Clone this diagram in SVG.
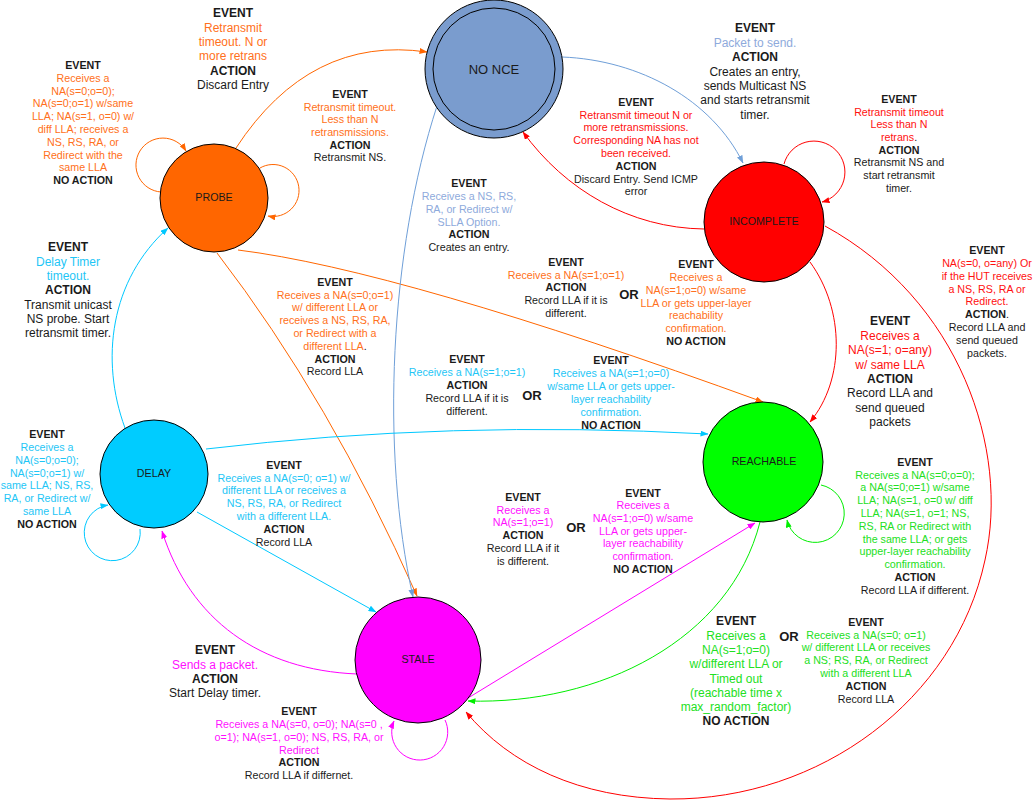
<svg xmlns="http://www.w3.org/2000/svg" width="1035" height="801" viewBox="0 0 1035 801">
<style>
text{font-family:"Liberation Sans",Arial,sans-serif;text-anchor:middle;font-size:10.7px;fill:#1a1a1a}
.l{font-size:12px}
.b{font-weight:bold}
.or{font-weight:bold;font-size:13px}
.cO{fill:#ff7020}.cR{fill:#ff1010}.cB{fill:#8eaadc}.cC{fill:#1ec6f6}.cM{fill:#ff10ff}.cG{fill:#22e022}.k{fill:#1a1a1a}
.node{stroke:#000;stroke-width:1}
.e{fill:none;stroke-width:1}
.eO{stroke:#ff6600;marker-end:url(#aO)}.eR{stroke:#ff0000;marker-end:url(#aR)}.eB{stroke:#6f9fd8;marker-end:url(#aB)}
.eC{stroke:#00c8ff;marker-end:url(#aC)}.eM{stroke:#ff00ff;marker-end:url(#aM)}.eG{stroke:#00ee00;marker-end:url(#aG)}
</style>
<defs>
<marker id="aO" markerWidth="8" markerHeight="6" refX="7.5" refY="3" orient="auto" markerUnits="userSpaceOnUse"><path d="M0,0 L8,3 L0,6 z" fill="#ff6600"/></marker>
<marker id="aR" markerWidth="8" markerHeight="6" refX="7.5" refY="3" orient="auto" markerUnits="userSpaceOnUse"><path d="M0,0 L8,3 L0,6 z" fill="#ff0000"/></marker>
<marker id="aB" markerWidth="8" markerHeight="6" refX="7.5" refY="3" orient="auto" markerUnits="userSpaceOnUse"><path d="M0,0 L8,3 L0,6 z" fill="#6f9fd8"/></marker>
<marker id="aC" markerWidth="8" markerHeight="6" refX="7.5" refY="3" orient="auto" markerUnits="userSpaceOnUse"><path d="M0,0 L8,3 L0,6 z" fill="#00c8ff"/></marker>
<marker id="aM" markerWidth="8" markerHeight="6" refX="7.5" refY="3" orient="auto" markerUnits="userSpaceOnUse"><path d="M0,0 L8,3 L0,6 z" fill="#ff00ff"/></marker>
<marker id="aG" markerWidth="8" markerHeight="6" refX="7.5" refY="3" orient="auto" markerUnits="userSpaceOnUse"><path d="M0,0 L8,3 L0,6 z" fill="#00ee00"/></marker>
</defs>
<rect width="1035" height="801" fill="#fff"/>
<g id="connectors">
<path class="e eO" d="M236,148 Q310,35 427,52"/>
<path class="e eO" d="M161,192 A27,27 0 1 1 186,151"/>
<path class="e eO" d="M260,168 A26,26 0 1 1 268,216"/>
<path class="e eB" d="M562,57 C640,60 712,100 743,163"/>
<path class="e eR" d="M704,229 C630,228 565,190 523,132"/>
<path class="e eR" d="M784,164 A31,31 0 1 1 822,202"/>
<path class="e eR" d="M810,262 C845,310 845,380 810,422"/>
<path class="e eR" d="M825,226 C960,300 1010,450 985,560 C955,700 820,800 670,799 C580,798 510,765 466,712"/>
<path class="e eO" d="M238,250 Q400,270 763,402"/>
<path class="e eO" d="M217,253 Q330,400 417,596"/>
<path class="e eB" d="M437,106 C390,250 380,450 413,597"/>
<path class="e eC" d="M125,428 C100,360 110,280 168,228"/>
<path class="e eC" d="M140,529 A28,28 0 1 1 108,505"/>
<path class="e eC" d="M206,449 Q450,420 708,434"/>
<path class="e eC" d="M197,512 L376,612"/>
<path class="e eM" d="M357,674 C260,670 190,620 162,531"/>
<path class="e eM" d="M445,720 A28,28 0 1 1 394,721"/>
<path class="e eM" d="M468,698 L755,523"/>
<path class="e eG" d="M760,522 C730,640 600,705 468,701"/>
<path class="e eG" d="M821,485 A29,29 0 1 1 787,520"/>
</g>
<g id="nonce">
<circle class="node" cx="494" cy="69" r="69" fill="#7a9cce"/>
<circle class="node" cx="494" cy="69" r="61" fill="#7a9cce"/>
<text x="494" y="73.5" style="font-size:13px">NO NCE</text>
</g>
<g id="probe">
<circle class="node" cx="214" cy="198" r="54" fill="#ff6600"/>
<text x="214" y="201">PROBE</text>
</g>
<g id="incomplete">
<circle class="node" cx="764" cy="222" r="60" fill="#ff0000"/>
<text x="764" y="225">INCOMPLETE</text>
</g>
<g id="reachable">
<circle class="node" cx="763" cy="462" r="60" fill="#00ff00"/>
<text x="764" y="465">REACHABLE</text>
</g>
<g id="delay">
<circle class="node" cx="154" cy="474" r="54" fill="#00ccff"/>
<text x="154" y="477">DELAY</text>
</g>
<g id="stale">
<circle class="node" cx="418" cy="660" r="63" fill="#ff00ff"/>
<text x="418" y="663">STALE</text>
</g>
<g id="labels">
<text x="83" y="69"><tspan class="b">EVENT</tspan><tspan class="cO" x="83" dy="12.8">Receives a</tspan><tspan class="cO" x="83" dy="12.8">NA(s=0;o=0);</tspan><tspan class="cO" x="83" dy="12.8">NA(s=0;o=1) w/same</tspan><tspan class="cO" x="83" dy="12.8">LLA; NA(s=1, o=0) w/</tspan><tspan class="cO" x="83" dy="12.8">diff LLA; receives a</tspan><tspan class="cO" x="83" dy="12.8">NS, RS, RA, or</tspan><tspan class="cO" x="83" dy="12.8">Redirect with the</tspan><tspan class="cO" x="83" dy="12.8">same LLA</tspan><tspan class="b" x="83" dy="12.8">NO ACTION</tspan></text>
<text class="l" x="233" y="17.3"><tspan class="b">EVENT</tspan><tspan class="cO" x="233" dy="14.3">Retransmit</tspan><tspan class="cO" x="233" dy="14.3">timeout. N or</tspan><tspan class="cO" x="233" dy="14.3">more retrans</tspan><tspan class="b" x="233" dy="14.3">ACTION</tspan><tspan x="233" dy="14.3">Discard Entry</tspan></text>
<text x="350" y="97.8"><tspan class="b">EVENT</tspan><tspan class="cO" x="350" dy="12.7">Retransmit timeout.</tspan><tspan class="cO" x="350" dy="12.7">Less than N</tspan><tspan class="cO" x="350" dy="12.7">retransmissions.</tspan><tspan class="b" x="350" dy="12.7">ACTION</tspan><tspan x="350" dy="12.7">Retransmit NS.</tspan></text>
<text class="l" x="755" y="32.3"><tspan class="b">EVENT</tspan><tspan class="cB" x="755" dy="14.4">Packet to send.</tspan><tspan class="b" x="755" dy="14.4">ACTION</tspan><tspan x="755" dy="14.4">Creates an entry,</tspan><tspan x="755" dy="14.4">sends Multicast NS</tspan><tspan x="755" dy="14.4">and starts retransmit</tspan><tspan x="755" dy="14.4">timer.</tspan></text>
<text x="636" y="105.8"><tspan class="b">EVENT</tspan><tspan class="cR" x="636" dy="12.8">Retransmit timeout N or</tspan><tspan class="cR" x="636" dy="12.8">more retransmissions.</tspan><tspan class="cR" x="636" dy="12.8">Corresponding NA has not</tspan><tspan class="cR" x="636" dy="12.8">been received.</tspan><tspan class="b" x="636" dy="12.8">ACTION</tspan><tspan x="636" dy="12.8">Discard Entry. Send ICMP</tspan><tspan x="636" dy="12.8">error</tspan></text>
<text x="899" y="102.8"><tspan class="b">EVENT</tspan><tspan class="cR" x="899" dy="12.7">Retransmit timeout</tspan><tspan class="cR" x="899" dy="12.7">Less than N</tspan><tspan x="899" dy="12.7"><tspan class="cR">retrans</tspan>.</tspan><tspan class="b" x="899" dy="12.7">ACTION</tspan><tspan x="899" dy="12.7">Retransmit NS and</tspan><tspan x="899" dy="12.7">start retransmit</tspan><tspan x="899" dy="12.7">timer.</tspan></text>
<text x="469" y="186.8"><tspan class="b">EVENT</tspan><tspan class="cB" x="469" dy="12.9">Receives a NS, RS,</tspan><tspan class="cB" x="469" dy="12.9">RA, or Redirect w/</tspan><tspan class="cB" x="469" dy="12.9">SLLA Option.</tspan><tspan class="b" x="469" dy="12.9">ACTION</tspan><tspan x="469" dy="12.9">Creates an entry.</tspan></text>
<text x="566" y="265.8"><tspan class="b">EVENT</tspan><tspan class="cO" x="566" dy="12.8">Receives a NA(s=1;o=1)</tspan><tspan class="b" x="566" dy="12.8">ACTION</tspan><tspan x="566" dy="12.8">Record LLA if it is</tspan><tspan x="566" dy="12.8">different.</tspan></text>
<text class="or" x="629" y="298.7">OR</text>
<text x="696" y="267.8"><tspan class="b">EVENT</tspan><tspan class="cO" x="696" dy="12.9">Receives a</tspan><tspan class="cO" x="696" dy="12.9">NA(s=1;o=0) w/same</tspan><tspan class="cO" x="696" dy="12.9">LLA or gets upper-layer</tspan><tspan class="cO" x="696" dy="12.9">reachability</tspan><tspan class="cO" x="696" dy="12.9">confirmation.</tspan><tspan class="b" x="696" dy="12.9">NO ACTION</tspan></text>
<text x="467" y="362.8"><tspan class="b">EVENT</tspan><tspan class="cC" x="467" dy="13">Receives a NA(s=1;o=1)</tspan><tspan class="b" x="467" dy="13">ACTION</tspan><tspan x="467" dy="13">Record LLA if it is</tspan><tspan x="467" dy="13">different.</tspan></text>
<text class="or" x="532" y="399.7">OR</text>
<text x="611" y="363.8"><tspan class="b">EVENT</tspan><tspan class="cC" x="611" dy="13">Receives a NA(s=1;o=0)</tspan><tspan class="cC" x="611" dy="13">w/same LLA or gets upper-</tspan><tspan class="cC" x="611" dy="13">layer reachability</tspan><tspan class="cC" x="611" dy="13">confirmation.</tspan><tspan class="b" x="611" dy="13">NO ACTION</tspan></text>
<text x="335" y="285.8"><tspan class="b">EVENT</tspan><tspan class="cO" x="335" dy="12.8">Receives a NA(s=0;o=1)</tspan><tspan class="cO" x="335" dy="12.8">w/ different LLA or</tspan><tspan class="cO" x="335" dy="12.8">receives a NS, RS, RA,</tspan><tspan class="cO" x="335" dy="12.8">or Redirect with a</tspan><tspan x="335" dy="12.8"><tspan class="cO">different LLA</tspan>.</tspan><tspan class="b" x="335" dy="12.8">ACTION</tspan><tspan x="335" dy="12.8">Record LLA</tspan></text>
<text class="l" x="68" y="251.3"><tspan class="b">EVENT</tspan><tspan class="cC" x="68" dy="14.3">Delay Timer</tspan><tspan class="cC" x="68" dy="14.3">timeout.</tspan><tspan class="b" x="68" dy="14.3">ACTION</tspan><tspan x="68" dy="14.3">Transmit unicast</tspan><tspan x="68" dy="14.3">NS probe. Start</tspan><tspan x="68" dy="14.3">retransmit timer.</tspan></text>
<text class="l" x="890" y="325.3"><tspan class="b">EVENT</tspan><tspan class="cR" x="890" dy="14.4">Receives a</tspan><tspan class="cR" x="890" dy="14.4">NA(s=1; o=any)</tspan><tspan class="cR" x="890" dy="14.4">w/ same LLA</tspan><tspan class="b" x="890" dy="14.4">ACTION</tspan><tspan x="890" dy="14.4">Record LLA and</tspan><tspan x="890" dy="14.4">send queued</tspan><tspan x="890" dy="14.4">packets</tspan></text>
<text x="987" y="253.8"><tspan class="b">EVENT</tspan><tspan class="cR" x="987" dy="12.9">NA(s=0, o=any) Or</tspan><tspan class="cR" x="987" dy="12.9">if the HUT receives</tspan><tspan class="cR" x="987" dy="12.9">a NS, RS, RA or</tspan><tspan class="cR" x="987" dy="12.9">Redirect.</tspan><tspan x="987" dy="12.9"><tspan class="b">ACTION</tspan>.</tspan><tspan x="987" dy="12.9">Record LLA and</tspan><tspan x="987" dy="12.9">send queued</tspan><tspan x="987" dy="12.9">packets.</tspan></text>
<text x="47" y="437.8"><tspan class="b">EVENT</tspan><tspan class="cC" x="47" dy="12.9">Receives a</tspan><tspan class="cC" x="47" dy="12.9">NA(s=0;o=0);</tspan><tspan class="cC" x="47" dy="12.9">NA(s=0;o=1) w/</tspan><tspan class="cC" x="47" dy="12.9">same LLA; NS, RS,</tspan><tspan class="cC" x="47" dy="12.9">RA, or Redirect w/</tspan><tspan class="cC" x="47" dy="12.9">same LLA</tspan><tspan class="b" x="47" dy="12.9">NO ACTION</tspan></text>
<text x="284" y="468.8"><tspan class="b">EVENT</tspan><tspan class="cC" x="284" dy="12.8">Receives a NA(s=0; o=1) w/</tspan><tspan class="cC" x="284" dy="12.8">different LLA or receives a</tspan><tspan class="cC" x="284" dy="12.8">NS, RS, RA, or Redirect</tspan><tspan class="cC" x="284" dy="12.8">with a different LLA.</tspan><tspan class="b" x="284" dy="12.8">ACTION</tspan><tspan x="284" dy="12.8">Record LLA</tspan></text>
<text x="523" y="500.8"><tspan class="b">EVENT</tspan><tspan class="cM" x="523" dy="12.8">Receives a</tspan><tspan class="cM" x="523" dy="12.8">NA(s=1;o=1)</tspan><tspan class="b" x="523" dy="12.8">ACTION</tspan><tspan x="523" dy="12.8">Record LLA if it</tspan><tspan x="523" dy="12.8">is different.</tspan></text>
<text class="or" x="576" y="531.7">OR</text>
<text x="643" y="496.5"><tspan class="b">EVENT</tspan><tspan class="cM" x="643" dy="12.7">Receives a</tspan><tspan class="cM" x="643" dy="12.7">NA(s=1;o=0) w/same</tspan><tspan class="cM" x="643" dy="12.7">LLA or gets upper-</tspan><tspan class="cM" x="643" dy="12.7">layer reachability</tspan><tspan class="cM" x="643" dy="12.7">confirmation.</tspan><tspan class="b" x="643" dy="12.7">NO ACTION</tspan></text>
<text x="915" y="465.8"><tspan class="b">EVENT</tspan><tspan class="cG" x="915" dy="12.8">Receives a NA(s=0;o=0);</tspan><tspan class="cG" x="915" dy="12.8">a NA(s=0;o=1) w/same</tspan><tspan class="cG" x="915" dy="12.8">LLA; NA(s=1, o=0 w/ diff</tspan><tspan class="cG" x="915" dy="12.8">LLA; NA(s=1, o=1; NS,</tspan><tspan class="cG" x="915" dy="12.8">RS, RA or Redirect with</tspan><tspan class="cG" x="915" dy="12.8">the same LLA; or gets</tspan><tspan class="cG" x="915" dy="12.8">upper-layer reachability</tspan><tspan class="cG" x="915" dy="12.8">confirmation.</tspan><tspan class="b" x="915" dy="12.8">ACTION</tspan><tspan x="915" dy="12.8">Record LLA if different.</tspan></text>
<text class="l" x="215" y="654.3"><tspan class="b">EVENT</tspan><tspan class="cM" x="215" dy="14.3">Sends a packet.</tspan><tspan class="b" x="215" dy="14.3">ACTION</tspan><tspan x="215" dy="14.3">Start Delay timer.</tspan></text>
<text x="299" y="714.8"><tspan class="b">EVENT</tspan><tspan class="cM" x="299" dy="12.9">Receives a NA(s=0, o=0); NA(s=0 ,</tspan><tspan class="cM" x="299" dy="12.9">o=1); NA(s=1, o=0); NS, RS, RA, or</tspan><tspan class="cM" x="299" dy="12.9">Redirect</tspan><tspan class="b" x="299" dy="12.9">ACTION</tspan><tspan x="299" dy="12.9">Record LLA if differnet.</tspan></text>
<text class="l" x="736" y="625.3"><tspan class="b">EVENT</tspan><tspan class="cG" x="736" dy="14.3">Receives a</tspan><tspan class="cG" x="736" dy="14.3">NA(s=1;o=0)</tspan><tspan class="cG" x="736" dy="14.3">w/different LLA or</tspan><tspan class="cG" x="736" dy="14.3">Timed out</tspan><tspan class="cG" x="736" dy="14.3">(reachable time x</tspan><tspan class="cG" x="736" dy="14.3">max_random_factor)</tspan><tspan class="b" x="736" dy="14.3">NO ACTION</tspan></text>
<text class="or" x="789" y="640.7">OR</text>
<text x="866" y="625.8"><tspan class="b">EVENT</tspan><tspan class="cG" x="866" dy="12.8">Receives a NA(s=0; o=1)</tspan><tspan class="cG" x="866" dy="12.8">w/ different LLA or receives</tspan><tspan class="cG" x="866" dy="12.8">a NS; RS, RA, or Redirect</tspan><tspan class="cG" x="866" dy="12.8">with a different LLA</tspan><tspan class="b" x="866" dy="12.8">ACTION</tspan><tspan x="866" dy="12.8">Record LLA</tspan></text>
</g>
</svg>
